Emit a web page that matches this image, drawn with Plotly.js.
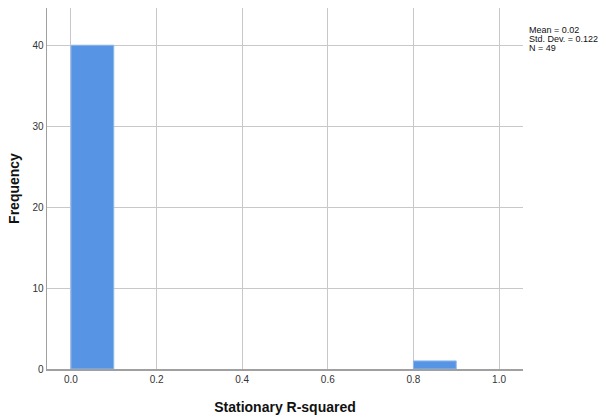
<!DOCTYPE html>
<html><head><meta charset="utf-8">
<script src="https://cdn.plot.ly/plotly-3.0.1.min.js"></script>
<style>body{margin:0;background:#fff}#c{width:605px;height:418px}</style>
</head><body><div id="c"></div>
<script>
const binCenters = [0.05, 0.15, 0.25, 0.35, 0.45, 0.55, 0.65, 0.75, 0.85, 0.95];
const frequencies = [40, 0, 0, 0, 0, 0, 0, 0, 1, 0];
const xTickVals = [0, 0.2, 0.4, 0.6, 0.8, 1.0];
const xTickText = ["0.0", "0.2", "0.4", "0.6", "0.8", "1.0"];
const yTickVals = [0, 10, 20, 30, 40];
const statsLines = ["Mean = 0.02", "Std. Dev. = 0.122", "N = 49"];

const trace = {
  type: 'bar', x: binCenters, y: frequencies, width: 0.1,
  marker: {color: '#5795e4', line: {color: '#8fb8ec', width: frequencies.map(v => v > 0 ? 1 : 0)}},
  hoverinfo: 'skip'
};
const lineY = [0.939, 0.914, 0.889];
const layout = {
  width: 605, height: 418,
  margin: {l: 47, r: 82, t: 8, b: 49},
  paper_bgcolor: '#fff', plot_bgcolor: '#fff',
  showlegend: false,
  font: {family: 'Arial, Liberation Sans, sans-serif', color: '#222'},
  xaxis: {
    range: [-0.056, 1.056], tickvals: xTickVals, ticktext: xTickText,
    showgrid: true, gridcolor: '#c8c8c8', gridwidth: 1,
    showline: true, linecolor: '#a0a0a0', linewidth: 1.5,
    ticks: '', zeroline: false, tickfont: {size: 10, color: '#333'},
    title: {text: '<b>Stationary R-squared</b>', font: {size: 14, color: '#111'}, standoff: 18}
  },
  yaxis: {
    range: [0, 44.6], tickvals: yTickVals,
    showgrid: true, gridcolor: '#c8c8c8', gridwidth: 1,
    showline: true, linecolor: '#a0a0a0', linewidth: 1.5,
    ticks: '', zeroline: false, tickfont: {size: 10, color: '#333'},
    title: {text: '<b>Frequency</b>', font: {size: 14, color: '#111'}, standoff: 9}
  },
  annotations: statsLines.map((t, i) => ({
    xref: 'paper', yref: 'paper', x: 1.008, y: lineY[i], xanchor: 'left', yanchor: 'middle',
    align: 'left', showarrow: false, text: t, font: {size: 9, color: '#111'}
  }))
};
Plotly.newPlot('c', [trace], layout, {staticPlot: true});
</script></body></html>
